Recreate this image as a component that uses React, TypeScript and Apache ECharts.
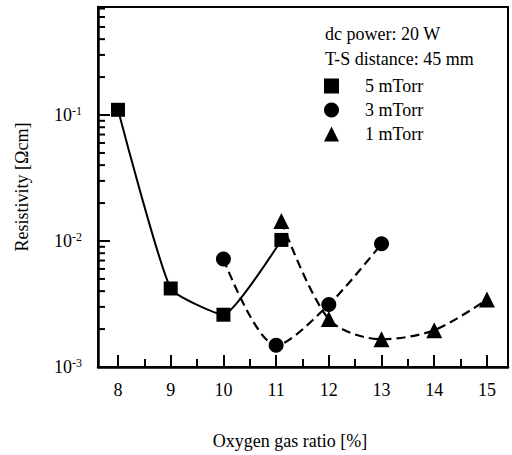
import React, { useEffect, useRef } from "react";
import * as echarts from "echarts";

// Tick values
const xTickLabels = [8, 9, 10, 11, 12, 13, 14, 15];
const yMajorTicks = [0.001, 0.01, 0.1];
const yMinorTicks = [
  0.002, 0.003, 0.004, 0.005, 0.006, 0.007, 0.008, 0.009,
  0.02, 0.03, 0.04, 0.05, 0.06, 0.07, 0.08, 0.09,
  0.2, 0.3, 0.4, 0.5, 0.6, 0.7,
];

// Series data (Oxygen gas ratio [%], Resistivity [Ωcm])
const ratio5 = [8, 9, 10, 11.1];
const res5 = [0.11, 0.0042, 0.0026, 0.0102];
const ratio3 = [10, 11, 12, 13];
const res3 = [0.0072, 0.00149, 0.00313, 0.0095];
const ratio1 = [11.1, 12, 13, 14, 15];
const res1 = [0.0144, 0.0024, 0.00166, 0.00196, 0.00343];

const seriesNames = ["5 mTorr", "3 mTorr", "1 mTorr"];
const noteLines = ["dc power: 20 W", "T-S distance: 45 mm"];

const FONT = '"Liberation Serif", "Times New Roman", serif';

function pairs(xs: number[], ys: number[]) {
  return xs.map((x, i) => [x, ys[i]]);
}

export default function App() {
  const ref = useRef<HTMLDivElement>(null);

  useEffect(() => {
    if (!ref.current) return;
    const chart = echarts.init(ref.current, undefined, { renderer: "svg" });
    const xMin = 7.62;
    const xMax = 15.4;
    const yMin = 0.001;
    const yMax = 0.72;

    const noteGraphics = noteLines.map((t, i) => ({
      id: "note" + i,
      type: "text",
      left: 325,
      top: 25 + i * 25,
      z: 10,
      style: { text: t, font: `18px ${FONT}`, fill: "#000" },
    }));

    const option = {
      animation: false,
      backgroundColor: "#fff",
      textStyle: { fontFamily: FONT, color: "#000" },
      grid: {
        left: 98,
        right: 4,
        top: 7,
        bottom: 85,
        show: true,
        borderColor: "#000",
        borderWidth: 2,
      },
      graphic: { elements: noteGraphics },
      legend: {
        orient: "vertical",
        left: 319,
        top: 72,
        itemWidth: 15,
        itemHeight: 15,
        itemGap: 6,
        selectedMode: false,
        data: [
          { name: seriesNames[0], icon: "rect" },
          { name: seriesNames[1], icon: "circle" },
          { name: seriesNames[2], icon: "triangle" },
        ],
        textStyle: {
          fontFamily: FONT,
          fontSize: 18,
          color: "#000",
          padding: [0, 0, 0, 21],
        },
      },
      xAxis: {
        type: "value",
        min: xMin,
        max: xMax,
        splitNumber: xTickLabels.length,
        name: "Oxygen gas ratio [%]",
        nameLocation: "middle",
        nameGap: 65,
        nameTextStyle: {
          fontFamily: FONT,
          fontSize: 18,
          color: "#000",
          padding: [0, 26, 0, 0],
        },
        axisLine: { show: true, lineStyle: { color: "#000", width: 2.5 } },
        axisTick: {
          show: true,
          inside: true,
          length: 12,
          lineStyle: { color: "#000", width: 2 },
        },
        minorTick: {
          show: true,
          splitNumber: 2,
          length: 8,
          lineStyle: { color: "#000", width: 2 },
        },
        axisLabel: {
          show: true,
          margin: 14,
          fontFamily: FONT,
          fontSize: 18,
          color: "#000",
          formatter: (v: number) =>
            Math.abs(v - Math.round(v)) < 1e-6 ? String(Math.round(v)) : "",
        },
        splitLine: { show: false },
        minorSplitLine: { show: false },
      },
      yAxis: {
        type: "log",
        logBase: 10,
        min: yMin,
        max: yMax,
        name: "Resistivity [Ωcm]",
        nameLocation: "middle",
        nameGap: 67,
        nameTextStyle: {
          fontFamily: FONT,
          fontSize: 18,
          color: "#000",
        },
        axisLine: { show: true, lineStyle: { color: "#000", width: 2.5 } },
        axisTick: {
          show: true,
          inside: true,
          length: 12,
          lineStyle: { color: "#000", width: 2 },
        },
        axisLabel: {
          show: true,
          margin: 16,
          formatter: (v: number) => {
            const e = Math.log10(v);
            if (Math.abs(e - Math.round(e)) > 1e-6) return "";
            return `{a|10}{b|${Math.round(e)}}`;
          },
          rich: {
            a: { fontFamily: FONT, fontSize: 18, color: "#000" },
            b: {
              fontFamily: FONT,
              fontSize: 12,
              color: "#000",
              verticalAlign: "bottom",
              padding: [0, 0, 8, 0],
            },
          },
        },
        splitLine: { show: false },
      },
      series: [
        {
          name: seriesNames[0],
          type: "line",
          data: pairs(ratio5, res5),
          smooth: 0.15,
          symbol: "rect",
          symbolSize: 14,
          itemStyle: { color: "#000" },
          lineStyle: { color: "#000", width: 2 },
          z: 3,
        },
        {
          name: seriesNames[1],
          type: "line",
          data: pairs(ratio3, res3),
          smooth: 0.3,
          symbol: "circle",
          symbolSize: 15,
          itemStyle: { color: "#000" },
          lineStyle: { color: "#000", width: 2.2, type: [9, 5] },
          z: 3,
        },
        {
          name: seriesNames[2],
          type: "line",
          data: pairs(ratio1, res1),
          smooth: 0.3,
          symbol: "triangle",
          symbolSize: 16,
          itemStyle: { color: "#000" },
          lineStyle: { color: "#000", width: 2.2, type: [9, 5] },
          z: 3,
        },
      ],
    };

    try {
      chart.setOption(option as any);
    } catch (e) {
      /* continue */
    }

    // Logarithmic minor ticks on the y axis, placed through the chart's scales
    const toPx = (pt: number[]): number[] | null => {
      const finders: any[] = [
        { xAxisIndex: 0, yAxisIndex: 0 },
        { seriesIndex: 0 },
        { gridIndex: 0 },
      ];
      for (const f of finders) {
        try {
          const r = chart.convertToPixel(f, pt) as any;
          if (r && isFinite(r[0]) && isFinite(r[1])) return r;
        } catch (e) {
          /* next */
        }
      }
      return null;
    };
    const tickGraphics: any[] = [];
    [...yMajorTicks, ...yMinorTicks].forEach((v, i) => {
      const p = toPx([xMin, v]);
      if (!p) return;
      const len = i < yMajorTicks.length ? 12 : 7;
      tickGraphics.push({
        id: "yt" + i,
        type: "line",
        z: 20,
        shape: { x1: p[0], y1: p[1], x2: p[0] + len, y2: p[1] },
        style: { stroke: "#000", lineWidth: 2 },
      });
    });

    try {
      chart.setOption({
        graphic: { elements: [...noteGraphics, ...tickGraphics] },
      });
    } catch (e) {
      /* ignore */
    }

    return () => {
      chart.dispose();
    };
  }, []);

  return (
    <div
      ref={ref}
      style={{
        position: "absolute",
        left: 0,
        top: 0,
        width: 512,
        height: 455,
        background: "#fff",
      }}
    />
  );
}
